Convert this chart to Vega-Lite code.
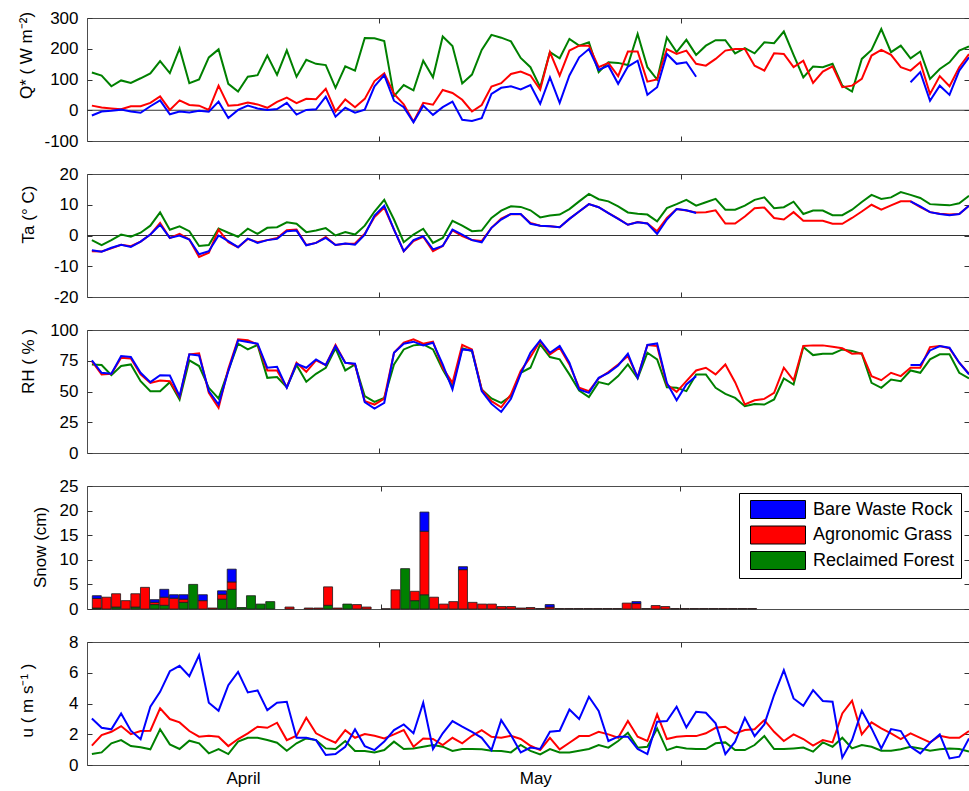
{
"$schema": "https://vega.github.io/schema/vega-lite/v6.json",
"background": "white",
"padding": {"left": 16, "top": 8, "right": 1, "bottom": 4},
"bounds": "flush",
"spacing": 33,
"resolve": {"scale": {"color": "independent"}},
"config": {
  "font": "Liberation Sans",
  "view": {"stroke": "#4d4d4d", "strokeWidth": 1},
  "axis": {"labelFont": "Liberation Sans", "labelFontSize": 17, "labelColor": "#000", "titleFont": "Liberation Sans", "titleFontSize": 17, "titleFontWeight": "normal", "titleColor": "#000", "grid": false, "domain": false, "tickColor": "#333", "tickSize": -5, "labelPadding": 14}
},
"datasets": {
"qstar": [
{"date":"2010-04-01T12:00","Bare Waste Rock":-17,"Agronomic Grass":15,"Reclaimed Forest":123},
{"date":"2010-04-02T12:00","Bare Waste Rock":-4,"Agronomic Grass":9,"Reclaimed Forest":113},
{"date":"2010-04-03T12:00","Bare Waste Rock":-2,"Agronomic Grass":6,"Reclaimed Forest":78},
{"date":"2010-04-04T12:00","Bare Waste Rock":2,"Agronomic Grass":3,"Reclaimed Forest":97},
{"date":"2010-04-05T12:00","Bare Waste Rock":-4,"Agronomic Grass":13,"Reclaimed Forest":89},
{"date":"2010-04-06T12:00","Bare Waste Rock":-8,"Agronomic Grass":13,"Reclaimed Forest":104},
{"date":"2010-04-07T12:00","Bare Waste Rock":13,"Agronomic Grass":24,"Reclaimed Forest":120},
{"date":"2010-04-08T12:00","Bare Waste Rock":32,"Agronomic Grass":45,"Reclaimed Forest":160},
{"date":"2010-04-09T12:00","Bare Waste Rock":-13,"Agronomic Grass":1,"Reclaimed Forest":121},
{"date":"2010-04-10T12:00","Bare Waste Rock":-4,"Agronomic Grass":32,"Reclaimed Forest":201},
{"date":"2010-04-11T12:00","Bare Waste Rock":-7,"Agronomic Grass":17,"Reclaimed Forest":88},
{"date":"2010-04-12T12:00","Bare Waste Rock":-2,"Agronomic Grass":15,"Reclaimed Forest":100},
{"date":"2010-04-13T12:00","Bare Waste Rock":-5,"Agronomic Grass":1,"Reclaimed Forest":172},
{"date":"2010-04-14T12:00","Bare Waste Rock":28,"Agronomic Grass":80,"Reclaimed Forest":198},
{"date":"2010-04-15T12:00","Bare Waste Rock":-25,"Agronomic Grass":15,"Reclaimed Forest":86},
{"date":"2010-04-16T12:00","Bare Waste Rock":1,"Agronomic Grass":17,"Reclaimed Forest":61},
{"date":"2010-04-17T12:00","Bare Waste Rock":15,"Agronomic Grass":25,"Reclaimed Forest":109},
{"date":"2010-04-18T12:00","Bare Waste Rock":6,"Agronomic Grass":19,"Reclaimed Forest":114},
{"date":"2010-04-19T12:00","Bare Waste Rock":1,"Agronomic Grass":8,"Reclaimed Forest":178},
{"date":"2010-04-20T12:00","Bare Waste Rock":4,"Agronomic Grass":27,"Reclaimed Forest":115},
{"date":"2010-04-21T12:00","Bare Waste Rock":24,"Agronomic Grass":41,"Reclaimed Forest":195},
{"date":"2010-04-22T12:00","Bare Waste Rock":-14,"Agronomic Grass":23,"Reclaimed Forest":109},
{"date":"2010-04-23T12:00","Bare Waste Rock":1,"Agronomic Grass":37,"Reclaimed Forest":164},
{"date":"2010-04-24T12:00","Bare Waste Rock":3,"Agronomic Grass":36,"Reclaimed Forest":151},
{"date":"2010-04-25T12:00","Bare Waste Rock":44,"Agronomic Grass":70,"Reclaimed Forest":147},
{"date":"2010-04-26T12:00","Bare Waste Rock":-21,"Agronomic Grass":-4,"Reclaimed Forest":73},
{"date":"2010-04-27T12:00","Bare Waste Rock":8,"Agronomic Grass":35,"Reclaimed Forest":143},
{"date":"2010-04-28T12:00","Bare Waste Rock":-8,"Agronomic Grass":10,"Reclaimed Forest":129},
{"date":"2010-04-29T12:00","Bare Waste Rock":2,"Agronomic Grass":37,"Reclaimed Forest":235},
{"date":"2010-04-30T12:00","Bare Waste Rock":78,"Agronomic Grass":95,"Reclaimed Forest":234},
{"date":"2010-05-01T12:00","Bare Waste Rock":114,"Agronomic Grass":120,"Reclaimed Forest":225},
{"date":"2010-05-02T12:00","Bare Waste Rock":31,"Agronomic Grass":53,"Reclaimed Forest":46},
{"date":"2010-05-03T12:00","Bare Waste Rock":10,"Agronomic Grass":19,"Reclaimed Forest":82},
{"date":"2010-05-04T12:00","Bare Waste Rock":-39,"Agronomic Grass":-37,"Reclaimed Forest":65},
{"date":"2010-05-05T12:00","Bare Waste Rock":15,"Agronomic Grass":24,"Reclaimed Forest":161},
{"date":"2010-05-06T12:00","Bare Waste Rock":-15,"Agronomic Grass":18,"Reclaimed Forest":107},
{"date":"2010-05-07T12:00","Bare Waste Rock":10,"Agronomic Grass":66,"Reclaimed Forest":240},
{"date":"2010-05-08T12:00","Bare Waste Rock":28,"Agronomic Grass":56,"Reclaimed Forest":209},
{"date":"2010-05-09T12:00","Bare Waste Rock":-31,"Agronomic Grass":34,"Reclaimed Forest":87},
{"date":"2010-05-10T12:00","Bare Waste Rock":-35,"Agronomic Grass":-4,"Reclaimed Forest":116},
{"date":"2010-05-11T12:00","Bare Waste Rock":-26,"Agronomic Grass":17,"Reclaimed Forest":196},
{"date":"2010-05-12T12:00","Bare Waste Rock":53,"Agronomic Grass":77,"Reclaimed Forest":245},
{"date":"2010-05-13T12:00","Bare Waste Rock":73,"Agronomic Grass":88,"Reclaimed Forest":236},
{"date":"2010-05-14T12:00","Bare Waste Rock":78,"Agronomic Grass":118,"Reclaimed Forest":224},
{"date":"2010-05-15T12:00","Bare Waste Rock":68,"Agronomic Grass":126,"Reclaimed Forest":170},
{"date":"2010-05-16T12:00","Bare Waste Rock":82,"Agronomic Grass":113,"Reclaimed Forest":140},
{"date":"2010-05-17T12:00","Bare Waste Rock":21,"Agronomic Grass":67,"Reclaimed Forest":75},
{"date":"2010-05-18T12:00","Bare Waste Rock":107,"Agronomic Grass":189,"Reclaimed Forest":189},
{"date":"2010-05-19T12:00","Bare Waste Rock":24,"Agronomic Grass":113,"Reclaimed Forest":169},
{"date":"2010-05-20T12:00","Bare Waste Rock":113,"Agronomic Grass":194,"Reclaimed Forest":232},
{"date":"2010-05-21T12:00","Bare Waste Rock":172,"Agronomic Grass":210,"Reclaimed Forest":210},
{"date":"2010-05-22T12:00","Bare Waste Rock":199,"Agronomic Grass":210,"Reclaimed Forest":221},
{"date":"2010-05-23T12:00","Bare Waste Rock":131,"Agronomic Grass":140,"Reclaimed Forest":124},
{"date":"2010-05-24T12:00","Bare Waste Rock":145,"Agronomic Grass":154,"Reclaimed Forest":156},
{"date":"2010-05-25T12:00","Bare Waste Rock":86,"Agronomic Grass":111,"Reclaimed Forest":154},
{"date":"2010-05-26T12:00","Bare Waste Rock":142,"Agronomic Grass":191,"Reclaimed Forest":147},
{"date":"2010-05-27T12:00","Bare Waste Rock":161,"Agronomic Grass":191,"Reclaimed Forest":248},
{"date":"2010-05-28T12:00","Bare Waste Rock":50,"Agronomic Grass":93,"Reclaimed Forest":140},
{"date":"2010-05-29T12:00","Bare Waste Rock":75,"Agronomic Grass":100,"Reclaimed Forest":100},
{"date":"2010-05-30T12:00","Bare Waste Rock":183,"Agronomic Grass":199,"Reclaimed Forest":237},
{"date":"2010-05-31T12:00","Bare Waste Rock":151,"Agronomic Grass":183,"Reclaimed Forest":189},
{"date":"2010-06-01T12:00","Bare Waste Rock":156,"Agronomic Grass":194,"Reclaimed Forest":229},
{"date":"2010-06-02T12:00","Bare Waste Rock":109,"Agronomic Grass":151,"Reclaimed Forest":180},
{"date":"2010-06-03T12:00","Bare Waste Rock":null,"Agronomic Grass":145,"Reclaimed Forest":210},
{"date":"2010-06-04T12:00","Bare Waste Rock":null,"Agronomic Grass":167,"Reclaimed Forest":228},
{"date":"2010-06-05T12:00","Bare Waste Rock":null,"Agronomic Grass":194,"Reclaimed Forest":228},
{"date":"2010-06-06T12:00","Bare Waste Rock":null,"Agronomic Grass":199,"Reclaimed Forest":185},
{"date":"2010-06-07T12:00","Bare Waste Rock":null,"Agronomic Grass":199,"Reclaimed Forest":202},
{"date":"2010-06-08T12:00","Bare Waste Rock":null,"Agronomic Grass":145,"Reclaimed Forest":185},
{"date":"2010-06-09T12:00","Bare Waste Rock":null,"Agronomic Grass":129,"Reclaimed Forest":221},
{"date":"2010-06-10T12:00","Bare Waste Rock":null,"Agronomic Grass":185,"Reclaimed Forest":218},
{"date":"2010-06-11T12:00","Bare Waste Rock":null,"Agronomic Grass":183,"Reclaimed Forest":256},
{"date":"2010-06-12T12:00","Bare Waste Rock":null,"Agronomic Grass":140,"Reclaimed Forest":180},
{"date":"2010-06-13T12:00","Bare Waste Rock":null,"Agronomic Grass":161,"Reclaimed Forest":107},
{"date":"2010-06-14T12:00","Bare Waste Rock":null,"Agronomic Grass":89,"Reclaimed Forest":142},
{"date":"2010-06-15T12:00","Bare Waste Rock":null,"Agronomic Grass":126,"Reclaimed Forest":140},
{"date":"2010-06-16T12:00","Bare Waste Rock":null,"Agronomic Grass":143,"Reclaimed Forest":151},
{"date":"2010-06-17T12:00","Bare Waste Rock":null,"Agronomic Grass":75,"Reclaimed Forest":80},
{"date":"2010-06-18T12:00","Bare Waste Rock":null,"Agronomic Grass":80,"Reclaimed Forest":61},
{"date":"2010-06-19T12:00","Bare Waste Rock":null,"Agronomic Grass":102,"Reclaimed Forest":167},
{"date":"2010-06-20T12:00","Bare Waste Rock":null,"Agronomic Grass":178,"Reclaimed Forest":196},
{"date":"2010-06-21T12:00","Bare Waste Rock":null,"Agronomic Grass":196,"Reclaimed Forest":264},
{"date":"2010-06-22T12:00","Bare Waste Rock":null,"Agronomic Grass":180,"Reclaimed Forest":189},
{"date":"2010-06-23T12:00","Bare Waste Rock":null,"Agronomic Grass":140,"Reclaimed Forest":210},
{"date":"2010-06-24T12:00","Bare Waste Rock":91,"Agronomic Grass":129,"Reclaimed Forest":169},
{"date":"2010-06-25T12:00","Bare Waste Rock":124,"Agronomic Grass":156,"Reclaimed Forest":191},
{"date":"2010-06-26T12:00","Bare Waste Rock":31,"Agronomic Grass":53,"Reclaimed Forest":102},
{"date":"2010-06-27T12:00","Bare Waste Rock":80,"Agronomic Grass":111,"Reclaimed Forest":134},
{"date":"2010-06-28T12:00","Bare Waste Rock":50,"Agronomic Grass":78,"Reclaimed Forest":156},
{"date":"2010-06-29T12:00","Bare Waste Rock":129,"Agronomic Grass":140,"Reclaimed Forest":194},
{"date":"2010-06-30T12:00","Bare Waste Rock":172,"Agronomic Grass":183,"Reclaimed Forest":208}
],
"ta": [
{"date":"2010-04-01T12:00","Bare Waste Rock":-4.8,"Agronomic Grass":-5.1,"Reclaimed Forest":-1.5},
{"date":"2010-04-02T12:00","Bare Waste Rock":-5.3,"Agronomic Grass":-5.2,"Reclaimed Forest":-3.1},
{"date":"2010-04-03T12:00","Bare Waste Rock":-4.0,"Agronomic Grass":-4.2,"Reclaimed Forest":-1.5},
{"date":"2010-04-04T12:00","Bare Waste Rock":-3.0,"Agronomic Grass":-3.0,"Reclaimed Forest":0.3},
{"date":"2010-04-05T12:00","Bare Waste Rock":-3.7,"Agronomic Grass":-3.5,"Reclaimed Forest":-0.4},
{"date":"2010-04-06T12:00","Bare Waste Rock":-2.0,"Agronomic Grass":-2.0,"Reclaimed Forest":0.9},
{"date":"2010-04-07T12:00","Bare Waste Rock":0.3,"Agronomic Grass":0.3,"Reclaimed Forest":3.2},
{"date":"2010-04-08T12:00","Bare Waste Rock":3.5,"Agronomic Grass":4.1,"Reclaimed Forest":7.5},
{"date":"2010-04-09T12:00","Bare Waste Rock":-0.8,"Agronomic Grass":-0.8,"Reclaimed Forest":1.9},
{"date":"2010-04-10T12:00","Bare Waste Rock":0,"Agronomic Grass":0.5,"Reclaimed Forest":3.0},
{"date":"2010-04-11T12:00","Bare Waste Rock":-1.3,"Agronomic Grass":-1.3,"Reclaimed Forest":1.4},
{"date":"2010-04-12T12:00","Bare Waste Rock":-6.1,"Agronomic Grass":-7.0,"Reclaimed Forest":-3.4},
{"date":"2010-04-13T12:00","Bare Waste Rock":-5.1,"Agronomic Grass":-5.6,"Reclaimed Forest":-3.1},
{"date":"2010-04-14T12:00","Bare Waste Rock":0,"Agronomic Grass":1.9,"Reclaimed Forest":2.3},
{"date":"2010-04-15T12:00","Bare Waste Rock":-1.8,"Agronomic Grass":-2.2,"Reclaimed Forest":0.9},
{"date":"2010-04-16T12:00","Bare Waste Rock":-3.8,"Agronomic Grass":-3.8,"Reclaimed Forest":-0.4},
{"date":"2010-04-17T12:00","Bare Waste Rock":-1.0,"Agronomic Grass":-1.1,"Reclaimed Forest":2.2},
{"date":"2010-04-18T12:00","Bare Waste Rock":-2.4,"Agronomic Grass":-2.2,"Reclaimed Forest":0.5},
{"date":"2010-04-19T12:00","Bare Waste Rock":-1.5,"Agronomic Grass":-1.5,"Reclaimed Forest":2.5},
{"date":"2010-04-20T12:00","Bare Waste Rock":-1.1,"Agronomic Grass":-0.8,"Reclaimed Forest":2.7},
{"date":"2010-04-21T12:00","Bare Waste Rock":1.4,"Agronomic Grass":1.7,"Reclaimed Forest":4.3},
{"date":"2010-04-22T12:00","Bare Waste Rock":1.6,"Agronomic Grass":1.9,"Reclaimed Forest":3.8},
{"date":"2010-04-23T12:00","Bare Waste Rock":-3.2,"Agronomic Grass":-3.1,"Reclaimed Forest":1.1},
{"date":"2010-04-24T12:00","Bare Waste Rock":-2.4,"Agronomic Grass":-2.4,"Reclaimed Forest":1.6},
{"date":"2010-04-25T12:00","Bare Waste Rock":-0.8,"Agronomic Grass":-0.5,"Reclaimed Forest":2.4},
{"date":"2010-04-26T12:00","Bare Waste Rock":-3.1,"Agronomic Grass":-3.1,"Reclaimed Forest":0},
{"date":"2010-04-27T12:00","Bare Waste Rock":-2.6,"Agronomic Grass":-2.7,"Reclaimed Forest":1.1},
{"date":"2010-04-28T12:00","Bare Waste Rock":-3.0,"Agronomic Grass":-2.6,"Reclaimed Forest":0.3},
{"date":"2010-04-29T12:00","Bare Waste Rock":0.3,"Agronomic Grass":0.6,"Reclaimed Forest":3.2},
{"date":"2010-04-30T12:00","Bare Waste Rock":6.5,"Agronomic Grass":6.0,"Reclaimed Forest":7.8},
{"date":"2010-05-01T12:00","Bare Waste Rock":9.7,"Agronomic Grass":9.1,"Reclaimed Forest":11.6},
{"date":"2010-05-02T12:00","Bare Waste Rock":1.9,"Agronomic Grass":1.9,"Reclaimed Forest":5.2},
{"date":"2010-05-03T12:00","Bare Waste Rock":-5.1,"Agronomic Grass":-5.1,"Reclaimed Forest":-2.2},
{"date":"2010-05-04T12:00","Bare Waste Rock":-1.5,"Agronomic Grass":-1.8,"Reclaimed Forest":0.3},
{"date":"2010-05-05T12:00","Bare Waste Rock":-0.2,"Agronomic Grass":-0.4,"Reclaimed Forest":2.2},
{"date":"2010-05-06T12:00","Bare Waste Rock":-4.5,"Agronomic Grass":-5.1,"Reclaimed Forest":-2.4},
{"date":"2010-05-07T12:00","Bare Waste Rock":-3.4,"Agronomic Grass":-3.4,"Reclaimed Forest":-0.8},
{"date":"2010-05-08T12:00","Bare Waste Rock":1.9,"Agronomic Grass":1.7,"Reclaimed Forest":4.8},
{"date":"2010-05-09T12:00","Bare Waste Rock":0.3,"Agronomic Grass":-0.2,"Reclaimed Forest":3.2},
{"date":"2010-05-10T12:00","Bare Waste Rock":-1.5,"Agronomic Grass":-1.5,"Reclaimed Forest":1.4},
{"date":"2010-05-11T12:00","Bare Waste Rock":-2.2,"Agronomic Grass":-1.8,"Reclaimed Forest":1.6},
{"date":"2010-05-12T12:00","Bare Waste Rock":2.5,"Agronomic Grass":2.5,"Reclaimed Forest":5.7},
{"date":"2010-05-13T12:00","Bare Waste Rock":5.2,"Agronomic Grass":5.5,"Reclaimed Forest":8.1},
{"date":"2010-05-14T12:00","Bare Waste Rock":7.0,"Agronomic Grass":7.0,"Reclaimed Forest":9.5},
{"date":"2010-05-15T12:00","Bare Waste Rock":7.0,"Agronomic Grass":6.9,"Reclaimed Forest":9.3},
{"date":"2010-05-16T12:00","Bare Waste Rock":3.8,"Agronomic Grass":4.1,"Reclaimed Forest":8.2},
{"date":"2010-05-17T12:00","Bare Waste Rock":3.2,"Agronomic Grass":3.2,"Reclaimed Forest":5.9},
{"date":"2010-05-18T12:00","Bare Waste Rock":3.0,"Agronomic Grass":3.0,"Reclaimed Forest":6.5},
{"date":"2010-05-19T12:00","Bare Waste Rock":2.7,"Agronomic Grass":2.7,"Reclaimed Forest":6.8},
{"date":"2010-05-20T12:00","Bare Waste Rock":5.4,"Agronomic Grass":5.4,"Reclaimed Forest":8.6},
{"date":"2010-05-21T12:00","Bare Waste Rock":7.8,"Agronomic Grass":7.8,"Reclaimed Forest":11.1},
{"date":"2010-05-22T12:00","Bare Waste Rock":10.2,"Agronomic Grass":10.2,"Reclaimed Forest":13.5},
{"date":"2010-05-23T12:00","Bare Waste Rock":9.2,"Agronomic Grass":9.2,"Reclaimed Forest":11.8},
{"date":"2010-05-24T12:00","Bare Waste Rock":7.3,"Agronomic Grass":7.3,"Reclaimed Forest":11.1},
{"date":"2010-05-25T12:00","Bare Waste Rock":5.4,"Agronomic Grass":5.5,"Reclaimed Forest":9.5},
{"date":"2010-05-26T12:00","Bare Waste Rock":3.5,"Agronomic Grass":3.5,"Reclaimed Forest":7.5},
{"date":"2010-05-27T12:00","Bare Waste Rock":4.3,"Agronomic Grass":4.4,"Reclaimed Forest":7.1},
{"date":"2010-05-28T12:00","Bare Waste Rock":3.9,"Agronomic Grass":3.9,"Reclaimed Forest":6.8},
{"date":"2010-05-29T12:00","Bare Waste Rock":0.5,"Agronomic Grass":1.4,"Reclaimed Forest":4.6},
{"date":"2010-05-30T12:00","Bare Waste Rock":5.2,"Agronomic Grass":5.7,"Reclaimed Forest":8.9},
{"date":"2010-05-31T12:00","Bare Waste Rock":8.6,"Agronomic Grass":8.6,"Reclaimed Forest":10.2},
{"date":"2010-06-01T12:00","Bare Waste Rock":8.2,"Agronomic Grass":8.1,"Reclaimed Forest":11.6},
{"date":"2010-06-02T12:00","Bare Waste Rock":7.3,"Agronomic Grass":7.5,"Reclaimed Forest":9.7},
{"date":"2010-06-03T12:00","Bare Waste Rock":null,"Agronomic Grass":7.6,"Reclaimed Forest":10.8},
{"date":"2010-06-04T12:00","Bare Waste Rock":null,"Agronomic Grass":8.2,"Reclaimed Forest":11.9},
{"date":"2010-06-05T12:00","Bare Waste Rock":null,"Agronomic Grass":3.9,"Reclaimed Forest":8.4},
{"date":"2010-06-06T12:00","Bare Waste Rock":null,"Agronomic Grass":3.9,"Reclaimed Forest":8.4},
{"date":"2010-06-07T12:00","Bare Waste Rock":null,"Agronomic Grass":6.2,"Reclaimed Forest":9.7},
{"date":"2010-06-08T12:00","Bare Waste Rock":null,"Agronomic Grass":8.9,"Reclaimed Forest":11.6},
{"date":"2010-06-09T12:00","Bare Waste Rock":null,"Agronomic Grass":9.1,"Reclaimed Forest":12.4},
{"date":"2010-06-10T12:00","Bare Waste Rock":null,"Agronomic Grass":5.7,"Reclaimed Forest":8.9},
{"date":"2010-06-11T12:00","Bare Waste Rock":null,"Agronomic Grass":5.2,"Reclaimed Forest":9.2},
{"date":"2010-06-12T12:00","Bare Waste Rock":null,"Agronomic Grass":7.6,"Reclaimed Forest":11.0},
{"date":"2010-06-13T12:00","Bare Waste Rock":null,"Agronomic Grass":4.8,"Reclaimed Forest":7.0},
{"date":"2010-06-14T12:00","Bare Waste Rock":null,"Agronomic Grass":4.8,"Reclaimed Forest":8.1},
{"date":"2010-06-15T12:00","Bare Waste Rock":null,"Agronomic Grass":4.8,"Reclaimed Forest":8.1},
{"date":"2010-06-16T12:00","Bare Waste Rock":null,"Agronomic Grass":3.8,"Reclaimed Forest":6.6},
{"date":"2010-06-17T12:00","Bare Waste Rock":null,"Agronomic Grass":3.8,"Reclaimed Forest":6.6},
{"date":"2010-06-18T12:00","Bare Waste Rock":null,"Agronomic Grass":5.7,"Reclaimed Forest":8.4},
{"date":"2010-06-19T12:00","Bare Waste Rock":null,"Agronomic Grass":7.8,"Reclaimed Forest":10.9},
{"date":"2010-06-20T12:00","Bare Waste Rock":null,"Agronomic Grass":10.0,"Reclaimed Forest":13.2},
{"date":"2010-06-21T12:00","Bare Waste Rock":null,"Agronomic Grass":8.4,"Reclaimed Forest":11.9},
{"date":"2010-06-22T12:00","Bare Waste Rock":null,"Agronomic Grass":9.8,"Reclaimed Forest":12.4},
{"date":"2010-06-23T12:00","Bare Waste Rock":null,"Agronomic Grass":11.1,"Reclaimed Forest":14.1},
{"date":"2010-06-24T12:00","Bare Waste Rock":11.1,"Agronomic Grass":11.1,"Reclaimed Forest":13.2},
{"date":"2010-06-25T12:00","Bare Waste Rock":9.5,"Agronomic Grass":9.2,"Reclaimed Forest":12.2},
{"date":"2010-06-26T12:00","Bare Waste Rock":7.6,"Agronomic Grass":7.6,"Reclaimed Forest":10.2},
{"date":"2010-06-27T12:00","Bare Waste Rock":7.0,"Agronomic Grass":7.1,"Reclaimed Forest":10.0},
{"date":"2010-06-28T12:00","Bare Waste Rock":6.6,"Agronomic Grass":6.8,"Reclaimed Forest":9.8},
{"date":"2010-06-29T12:00","Bare Waste Rock":7.0,"Agronomic Grass":7.0,"Reclaimed Forest":10.5},
{"date":"2010-06-30T12:00","Bare Waste Rock":9.7,"Agronomic Grass":9.7,"Reclaimed Forest":12.9}
],
"rh": [
{"date":"2010-04-01T12:00","Bare Waste Rock":75.3,"Agronomic Grass":74.7,"Reclaimed Forest":72},
{"date":"2010-04-02T12:00","Bare Waste Rock":65.2,"Agronomic Grass":63.9,"Reclaimed Forest":71.5},
{"date":"2010-04-03T12:00","Bare Waste Rock":64.4,"Agronomic Grass":64.4,"Reclaimed Forest":63.3},
{"date":"2010-04-04T12:00","Bare Waste Rock":78.8,"Agronomic Grass":77.4,"Reclaimed Forest":70.7},
{"date":"2010-04-05T12:00","Bare Waste Rock":78,"Agronomic Grass":76.9,"Reclaimed Forest":72},
{"date":"2010-04-06T12:00","Bare Waste Rock":65.2,"Agronomic Grass":63.9,"Reclaimed Forest":58.4},
{"date":"2010-04-07T12:00","Bare Waste Rock":57.6,"Agronomic Grass":57,"Reclaimed Forest":50.3},
{"date":"2010-04-08T12:00","Bare Waste Rock":63.3,"Agronomic Grass":59,"Reclaimed Forest":50.3},
{"date":"2010-04-09T12:00","Bare Waste Rock":63,"Agronomic Grass":58.4,"Reclaimed Forest":57.6},
{"date":"2010-04-10T12:00","Bare Waste Rock":46.2,"Agronomic Grass":45.4,"Reclaimed Forest":43.5},
{"date":"2010-04-11T12:00","Bare Waste Rock":80.2,"Agronomic Grass":80.2,"Reclaimed Forest":75.3},
{"date":"2010-04-12T12:00","Bare Waste Rock":79.3,"Agronomic Grass":81,"Reclaimed Forest":70.7},
{"date":"2010-04-13T12:00","Bare Waste Rock":50.3,"Agronomic Grass":48.9,"Reclaimed Forest":53},
{"date":"2010-04-14T12:00","Bare Waste Rock":39.4,"Agronomic Grass":36.7,"Reclaimed Forest":44.3},
{"date":"2010-04-15T12:00","Bare Waste Rock":66.6,"Agronomic Grass":68.5,"Reclaimed Forest":67.1},
{"date":"2010-04-16T12:00","Bare Waste Rock":91.6,"Agronomic Grass":92.4,"Reclaimed Forest":88.9},
{"date":"2010-04-17T12:00","Bare Waste Rock":90.2,"Agronomic Grass":91.6,"Reclaimed Forest":84.2},
{"date":"2010-04-18T12:00","Bare Waste Rock":88.9,"Agronomic Grass":88.3,"Reclaimed Forest":87.8},
{"date":"2010-04-19T12:00","Bare Waste Rock":69.3,"Agronomic Grass":67.1,"Reclaimed Forest":61.1},
{"date":"2010-04-20T12:00","Bare Waste Rock":70.1,"Agronomic Grass":67.1,"Reclaimed Forest":61.7},
{"date":"2010-04-21T12:00","Bare Waste Rock":53,"Agronomic Grass":53.5,"Reclaimed Forest":53.5},
{"date":"2010-04-22T12:00","Bare Waste Rock":72.6,"Agronomic Grass":73.4,"Reclaimed Forest":71.5},
{"date":"2010-04-23T12:00","Bare Waste Rock":69.3,"Agronomic Grass":66,"Reclaimed Forest":57.9},
{"date":"2010-04-24T12:00","Bare Waste Rock":76.1,"Agronomic Grass":75.3,"Reclaimed Forest":64.4},
{"date":"2010-04-25T12:00","Bare Waste Rock":71.5,"Agronomic Grass":71.5,"Reclaimed Forest":69.3},
{"date":"2010-04-26T12:00","Bare Waste Rock":87,"Agronomic Grass":87.8,"Reclaimed Forest":85.1},
{"date":"2010-04-27T12:00","Bare Waste Rock":73.4,"Agronomic Grass":73.4,"Reclaimed Forest":67.1},
{"date":"2010-04-28T12:00","Bare Waste Rock":72.6,"Agronomic Grass":72,"Reclaimed Forest":72},
{"date":"2010-04-29T12:00","Bare Waste Rock":41.3,"Agronomic Grass":42.1,"Reclaimed Forest":46.2},
{"date":"2010-04-30T12:00","Bare Waste Rock":36.1,"Agronomic Grass":39.4,"Reclaimed Forest":41.6},
{"date":"2010-05-01T12:00","Bare Waste Rock":40.8,"Agronomic Grass":44.3,"Reclaimed Forest":44.8},
{"date":"2010-05-02T12:00","Bare Waste Rock":81.5,"Agronomic Grass":81.5,"Reclaimed Forest":72},
{"date":"2010-05-03T12:00","Bare Waste Rock":88.9,"Agronomic Grass":89.7,"Reclaimed Forest":84.2},
{"date":"2010-05-04T12:00","Bare Waste Rock":90.5,"Agronomic Grass":92.4,"Reclaimed Forest":87.5},
{"date":"2010-05-05T12:00","Bare Waste Rock":87.5,"Agronomic Grass":88.9,"Reclaimed Forest":88.3},
{"date":"2010-05-06T12:00","Bare Waste Rock":89.7,"Agronomic Grass":90.5,"Reclaimed Forest":84.2},
{"date":"2010-05-07T12:00","Bare Waste Rock":72,"Agronomic Grass":69.3,"Reclaimed Forest":67.9},
{"date":"2010-05-08T12:00","Bare Waste Rock":51.6,"Agronomic Grass":57,"Reclaimed Forest":54.3},
{"date":"2010-05-09T12:00","Bare Waste Rock":84.2,"Agronomic Grass":87.8,"Reclaimed Forest":85.1},
{"date":"2010-05-10T12:00","Bare Waste Rock":83.4,"Agronomic Grass":84.2,"Reclaimed Forest":82.9},
{"date":"2010-05-11T12:00","Bare Waste Rock":50.3,"Agronomic Grass":51.6,"Reclaimed Forest":51.6},
{"date":"2010-05-12T12:00","Bare Waste Rock":39.9,"Agronomic Grass":42.1,"Reclaimed Forest":44.3},
{"date":"2010-05-13T12:00","Bare Waste Rock":33.4,"Agronomic Grass":37.2,"Reclaimed Forest":40.8},
{"date":"2010-05-14T12:00","Bare Waste Rock":44,"Agronomic Grass":47.6,"Reclaimed Forest":46.2},
{"date":"2010-05-15T12:00","Bare Waste Rock":64.4,"Agronomic Grass":66.6,"Reclaimed Forest":65.2},
{"date":"2010-05-16T12:00","Bare Waste Rock":81.5,"Agronomic Grass":78,"Reclaimed Forest":69.3},
{"date":"2010-05-17T12:00","Bare Waste Rock":91.6,"Agronomic Grass":91,"Reclaimed Forest":88.3},
{"date":"2010-05-18T12:00","Bare Waste Rock":81.5,"Agronomic Grass":80.2,"Reclaimed Forest":78},
{"date":"2010-05-19T12:00","Bare Waste Rock":87,"Agronomic Grass":85.6,"Reclaimed Forest":76.1},
{"date":"2010-05-20T12:00","Bare Waste Rock":73.4,"Agronomic Grass":72,"Reclaimed Forest":63.9},
{"date":"2010-05-21T12:00","Bare Waste Rock":51.6,"Agronomic Grass":53,"Reclaimed Forest":50.8},
{"date":"2010-05-22T12:00","Bare Waste Rock":48.9,"Agronomic Grass":50.3,"Reclaimed Forest":45.4},
{"date":"2010-05-23T12:00","Bare Waste Rock":61.1,"Agronomic Grass":60.6,"Reclaimed Forest":57.6},
{"date":"2010-05-24T12:00","Bare Waste Rock":65.2,"Agronomic Grass":65.8,"Reclaimed Forest":55.7},
{"date":"2010-05-25T12:00","Bare Waste Rock":71.2,"Agronomic Grass":72,"Reclaimed Forest":62.5},
{"date":"2010-05-26T12:00","Bare Waste Rock":80.7,"Agronomic Grass":78.8,"Reclaimed Forest":72},
{"date":"2010-05-27T12:00","Bare Waste Rock":61.1,"Agronomic Grass":61.7,"Reclaimed Forest":60.6},
{"date":"2010-05-28T12:00","Bare Waste Rock":87.8,"Agronomic Grass":87.8,"Reclaimed Forest":81.5},
{"date":"2010-05-29T12:00","Bare Waste Rock":89.1,"Agronomic Grass":87,"Reclaimed Forest":76.1},
{"date":"2010-05-30T12:00","Bare Waste Rock":57,"Agronomic Grass":55.7,"Reclaimed Forest":53.5},
{"date":"2010-05-31T12:00","Bare Waste Rock":42.9,"Agronomic Grass":49.7,"Reclaimed Forest":53},
{"date":"2010-06-01T12:00","Bare Waste Rock":55.7,"Agronomic Grass":58.4,"Reclaimed Forest":50.3},
{"date":"2010-06-02T12:00","Bare Waste Rock":62.5,"Agronomic Grass":67.1,"Reclaimed Forest":63.9},
{"date":"2010-06-03T12:00","Bare Waste Rock":null,"Agronomic Grass":69.3,"Reclaimed Forest":63.9},
{"date":"2010-06-04T12:00","Bare Waste Rock":null,"Agronomic Grass":63.9,"Reclaimed Forest":53},
{"date":"2010-06-05T12:00","Bare Waste Rock":null,"Agronomic Grass":72,"Reclaimed Forest":48.1},
{"date":"2010-06-06T12:00","Bare Waste Rock":null,"Agronomic Grass":57.6,"Reclaimed Forest":44.8},
{"date":"2010-06-07T12:00","Bare Waste Rock":null,"Agronomic Grass":39.4,"Reclaimed Forest":38},
{"date":"2010-06-08T12:00","Bare Waste Rock":null,"Agronomic Grass":42.9,"Reclaimed Forest":39.9},
{"date":"2010-06-09T12:00","Bare Waste Rock":null,"Agronomic Grass":44,"Reclaimed Forest":39.4},
{"date":"2010-06-10T12:00","Bare Waste Rock":null,"Agronomic Grass":48.9,"Reclaimed Forest":43.5},
{"date":"2010-06-11T12:00","Bare Waste Rock":null,"Agronomic Grass":69.3,"Reclaimed Forest":60.6},
{"date":"2010-06-12T12:00","Bare Waste Rock":null,"Agronomic Grass":59,"Reclaimed Forest":55.7},
{"date":"2010-06-13T12:00","Bare Waste Rock":null,"Agronomic Grass":87,"Reclaimed Forest":86.1},
{"date":"2010-06-14T12:00","Bare Waste Rock":null,"Agronomic Grass":87.5,"Reclaimed Forest":79.6},
{"date":"2010-06-15T12:00","Bare Waste Rock":null,"Agronomic Grass":87.5,"Reclaimed Forest":80.7},
{"date":"2010-06-16T12:00","Bare Waste Rock":null,"Agronomic Grass":86.4,"Reclaimed Forest":80.7},
{"date":"2010-06-17T12:00","Bare Waste Rock":null,"Agronomic Grass":85.1,"Reclaimed Forest":84.2},
{"date":"2010-06-18T12:00","Bare Waste Rock":null,"Agronomic Grass":80.7,"Reclaimed Forest":82.9},
{"date":"2010-06-19T12:00","Bare Waste Rock":null,"Agronomic Grass":81,"Reclaimed Forest":80.7},
{"date":"2010-06-20T12:00","Bare Waste Rock":null,"Agronomic Grass":62.5,"Reclaimed Forest":57},
{"date":"2010-06-21T12:00","Bare Waste Rock":null,"Agronomic Grass":59.2,"Reclaimed Forest":53},
{"date":"2010-06-22T12:00","Bare Waste Rock":null,"Agronomic Grass":65.2,"Reclaimed Forest":59.8},
{"date":"2010-06-23T12:00","Bare Waste Rock":null,"Agronomic Grass":62.5,"Reclaimed Forest":58.4},
{"date":"2010-06-24T12:00","Bare Waste Rock":71.5,"Agronomic Grass":69.3,"Reclaimed Forest":67.1},
{"date":"2010-06-25T12:00","Bare Waste Rock":71.5,"Agronomic Grass":69.3,"Reclaimed Forest":65.2},
{"date":"2010-06-26T12:00","Bare Waste Rock":83.4,"Agronomic Grass":86.1,"Reclaimed Forest":76.1},
{"date":"2010-06-27T12:00","Bare Waste Rock":87,"Agronomic Grass":87,"Reclaimed Forest":80.2},
{"date":"2010-06-28T12:00","Bare Waste Rock":85.6,"Agronomic Grass":85.1,"Reclaimed Forest":80.2},
{"date":"2010-06-29T12:00","Bare Waste Rock":73.4,"Agronomic Grass":73.4,"Reclaimed Forest":65.2},
{"date":"2010-06-30T12:00","Bare Waste Rock":63.9,"Agronomic Grass":64.4,"Reclaimed Forest":60.6}
],
"snow": [
{"date":"2010-04-01T12:00","site":"Reclaimed Forest","cm":0.2},{"date":"2010-04-01T12:00","site":"Agronomic Grass","cm":1.95},{"date":"2010-04-01T12:00","site":"Bare Waste Rock","cm":0.55},
{"date":"2010-04-02T12:00","site":"Agronomic Grass","cm":2.4},
{"date":"2010-04-03T12:00","site":"Reclaimed Forest","cm":0.4},{"date":"2010-04-03T12:00","site":"Agronomic Grass","cm":2.7},
{"date":"2010-04-04T12:00","site":"Agronomic Grass","cm":1.7},
{"date":"2010-04-05T12:00","site":"Reclaimed Forest","cm":0.4},{"date":"2010-04-05T12:00","site":"Agronomic Grass","cm":2.7},
{"date":"2010-04-06T12:00","site":"Agronomic Grass","cm":4.4},
{"date":"2010-04-07T12:00","site":"Reclaimed Forest","cm":0.9},{"date":"2010-04-07T12:00","site":"Agronomic Grass","cm":0.45},{"date":"2010-04-07T12:00","site":"Bare Waste Rock","cm":0.55},
{"date":"2010-04-08T12:00","site":"Reclaimed Forest","cm":0.75},{"date":"2010-04-08T12:00","site":"Agronomic Grass","cm":1.65},{"date":"2010-04-08T12:00","site":"Bare Waste Rock","cm":1.6},
{"date":"2010-04-09T12:00","site":"Agronomic Grass","cm":2.2},{"date":"2010-04-09T12:00","site":"Bare Waste Rock","cm":0.7},
{"date":"2010-04-10T12:00","site":"Reclaimed Forest","cm":1.35},{"date":"2010-04-10T12:00","site":"Agronomic Grass","cm":0.65},{"date":"2010-04-10T12:00","site":"Bare Waste Rock","cm":0.9},
{"date":"2010-04-11T12:00","site":"Reclaimed Forest","cm":5.0},
{"date":"2010-04-12T12:00","site":"Agronomic Grass","cm":1.7},{"date":"2010-04-12T12:00","site":"Bare Waste Rock","cm":1.2},
{"date":"2010-04-13T12:00","site":"Agronomic Grass","cm":0.2},
{"date":"2010-04-14T12:00","site":"Reclaimed Forest","cm":2.0},{"date":"2010-04-14T12:00","site":"Agronomic Grass","cm":1.0},{"date":"2010-04-14T12:00","site":"Bare Waste Rock","cm":0.7},
{"date":"2010-04-15T12:00","site":"Reclaimed Forest","cm":4.0},{"date":"2010-04-15T12:00","site":"Agronomic Grass","cm":1.5},{"date":"2010-04-15T12:00","site":"Bare Waste Rock","cm":2.6},
{"date":"2010-04-16T12:00","site":"Reclaimed Forest","cm":0.3},
{"date":"2010-04-17T12:00","site":"Reclaimed Forest","cm":2.7},
{"date":"2010-04-18T12:00","site":"Reclaimed Forest","cm":1.0},
{"date":"2010-04-19T12:00","site":"Reclaimed Forest","cm":1.5},
{"date":"2010-04-21T12:00","site":"Agronomic Grass","cm":0.4},
{"date":"2010-04-23T12:00","site":"Agronomic Grass","cm":0.2},
{"date":"2010-04-24T12:00","site":"Agronomic Grass","cm":0.2},
{"date":"2010-04-25T12:00","site":"Reclaimed Forest","cm":0.75},{"date":"2010-04-25T12:00","site":"Agronomic Grass","cm":3.75},
{"date":"2010-04-26T12:00","site":"Agronomic Grass","cm":0.2},
{"date":"2010-04-27T12:00","site":"Reclaimed Forest","cm":1.0},
{"date":"2010-04-28T12:00","site":"Agronomic Grass","cm":0.9},
{"date":"2010-04-29T12:00","site":"Agronomic Grass","cm":0.4},
{"date":"2010-05-01T12:00","site":"Agronomic Grass","cm":0.05},
{"date":"2010-05-02T12:00","site":"Agronomic Grass","cm":3.9},
{"date":"2010-05-03T12:00","site":"Reclaimed Forest","cm":8.2},
{"date":"2010-05-04T12:00","site":"Reclaimed Forest","cm":1.7},{"date":"2010-05-04T12:00","site":"Agronomic Grass","cm":1.9},
{"date":"2010-05-05T12:00","site":"Reclaimed Forest","cm":2.9},{"date":"2010-05-05T12:00","site":"Agronomic Grass","cm":12.9},{"date":"2010-05-05T12:00","site":"Bare Waste Rock","cm":3.9},
{"date":"2010-05-06T12:00","site":"Agronomic Grass","cm":2.4},
{"date":"2010-05-07T12:00","site":"Agronomic Grass","cm":1.0},
{"date":"2010-05-08T12:00","site":"Agronomic Grass","cm":1.5},
{"date":"2010-05-09T12:00","site":"Agronomic Grass","cm":8.0},{"date":"2010-05-09T12:00","site":"Bare Waste Rock","cm":0.6},
{"date":"2010-05-10T12:00","site":"Agronomic Grass","cm":1.35},
{"date":"2010-05-11T12:00","site":"Agronomic Grass","cm":1.0},
{"date":"2010-05-12T12:00","site":"Agronomic Grass","cm":1.0},
{"date":"2010-05-13T12:00","site":"Agronomic Grass","cm":0.5},
{"date":"2010-05-14T12:00","site":"Agronomic Grass","cm":0.5},
{"date":"2010-05-15T12:00","site":"Agronomic Grass","cm":0.2},
{"date":"2010-05-16T12:00","site":"Agronomic Grass","cm":0.3},
{"date":"2010-05-17T12:00","site":"Agronomic Grass","cm":0.1},
{"date":"2010-05-18T12:00","site":"Agronomic Grass","cm":0.4},{"date":"2010-05-18T12:00","site":"Bare Waste Rock","cm":0.5},
{"date":"2010-05-19T12:00","site":"Agronomic Grass","cm":0.1},
{"date":"2010-05-20T12:00","site":"Agronomic Grass","cm":0.1},
{"date":"2010-05-21T12:00","site":"Agronomic Grass","cm":0.1},
{"date":"2010-05-22T12:00","site":"Agronomic Grass","cm":0.1},
{"date":"2010-05-23T12:00","site":"Agronomic Grass","cm":0.1},
{"date":"2010-05-24T12:00","site":"Agronomic Grass","cm":0.1},
{"date":"2010-05-25T12:00","site":"Agronomic Grass","cm":0.1},
{"date":"2010-05-26T12:00","site":"Agronomic Grass","cm":1.2},
{"date":"2010-05-27T12:00","site":"Agronomic Grass","cm":1.1},{"date":"2010-05-27T12:00","site":"Bare Waste Rock","cm":0.4},
{"date":"2010-05-28T12:00","site":"Agronomic Grass","cm":0.1},
{"date":"2010-05-29T12:00","site":"Agronomic Grass","cm":0.7},
{"date":"2010-05-30T12:00","site":"Agronomic Grass","cm":0.5},
{"date":"2010-05-31T12:00","site":"Agronomic Grass","cm":0.1},
{"date":"2010-06-01T12:00","site":"Agronomic Grass","cm":0.1},
{"date":"2010-06-02T12:00","site":"Agronomic Grass","cm":0.1},
{"date":"2010-06-03T12:00","site":"Agronomic Grass","cm":0.1},
{"date":"2010-06-04T12:00","site":"Agronomic Grass","cm":0.1},
{"date":"2010-06-05T12:00","site":"Agronomic Grass","cm":0.1},
{"date":"2010-06-06T12:00","site":"Agronomic Grass","cm":0.1},
{"date":"2010-06-07T12:00","site":"Agronomic Grass","cm":0.1},
{"date":"2010-06-08T12:00","site":"Agronomic Grass","cm":0.1}
],
"wind": [
{"date":"2010-04-01T12:00","Bare Waste Rock":3.03,"Agronomic Grass":1.26,"Reclaimed Forest":0.71},
{"date":"2010-04-02T12:00","Bare Waste Rock":2.42,"Agronomic Grass":1.95,"Reclaimed Forest":0.82},
{"date":"2010-04-03T12:00","Bare Waste Rock":2.32,"Agronomic Grass":2.16,"Reclaimed Forest":1.41},
{"date":"2010-04-04T12:00","Bare Waste Rock":3.35,"Agronomic Grass":2.53,"Reclaimed Forest":1.62},
{"date":"2010-04-05T12:00","Bare Waste Rock":2.23,"Agronomic Grass":2.01,"Reclaimed Forest":1.23},
{"date":"2010-04-06T12:00","Bare Waste Rock":1.67,"Agronomic Grass":2.21,"Reclaimed Forest":1.15},
{"date":"2010-04-07T12:00","Bare Waste Rock":3.79,"Agronomic Grass":2.23,"Reclaimed Forest":1.02},
{"date":"2010-04-08T12:00","Bare Waste Rock":4.76,"Agronomic Grass":3.68,"Reclaimed Forest":2.32},
{"date":"2010-04-09T12:00","Bare Waste Rock":6.10,"Agronomic Grass":2.99,"Reclaimed Forest":1.34},
{"date":"2010-04-10T12:00","Bare Waste Rock":6.45,"Agronomic Grass":2.77,"Reclaimed Forest":1.04},
{"date":"2010-04-11T12:00","Bare Waste Rock":5.78,"Agronomic Grass":2.21,"Reclaimed Forest":1.58},
{"date":"2010-04-12T12:00","Bare Waste Rock":7.14,"Agronomic Grass":1.84,"Reclaimed Forest":1.41},
{"date":"2010-04-13T12:00","Bare Waste Rock":4.05,"Agronomic Grass":1.90,"Reclaimed Forest":0.76},
{"date":"2010-04-14T12:00","Bare Waste Rock":3.53,"Agronomic Grass":1.84,"Reclaimed Forest":1.04},
{"date":"2010-04-15T12:00","Bare Waste Rock":5.19,"Agronomic Grass":1.23,"Reclaimed Forest":0.71},
{"date":"2010-04-16T12:00","Bare Waste Rock":6.06,"Agronomic Grass":1.69,"Reclaimed Forest":1.52},
{"date":"2010-04-17T12:00","Bare Waste Rock":4.72,"Agronomic Grass":2.06,"Reclaimed Forest":1.77},
{"date":"2010-04-18T12:00","Bare Waste Rock":4.85,"Agronomic Grass":2.49,"Reclaimed Forest":1.77},
{"date":"2010-04-19T12:00","Bare Waste Rock":3.57,"Agronomic Grass":2.42,"Reclaimed Forest":1.62},
{"date":"2010-04-20T12:00","Bare Waste Rock":4.05,"Agronomic Grass":2.75,"Reclaimed Forest":1.45},
{"date":"2010-04-21T12:00","Bare Waste Rock":4.11,"Agronomic Grass":1.62,"Reclaimed Forest":0.93},
{"date":"2010-04-22T12:00","Bare Waste Rock":1.77,"Agronomic Grass":1.90,"Reclaimed Forest":1.41},
{"date":"2010-04-23T12:00","Bare Waste Rock":1.77,"Agronomic Grass":3.07,"Reclaimed Forest":1.73},
{"date":"2010-04-24T12:00","Bare Waste Rock":1.62,"Agronomic Grass":2.06,"Reclaimed Forest":1.62},
{"date":"2010-04-25T12:00","Bare Waste Rock":0.65,"Agronomic Grass":1.73,"Reclaimed Forest":1.08},
{"date":"2010-04-26T12:00","Bare Waste Rock":0.71,"Agronomic Grass":1.45,"Reclaimed Forest":1.04},
{"date":"2010-04-27T12:00","Bare Waste Rock":1.19,"Agronomic Grass":2.27,"Reclaimed Forest":1.56},
{"date":"2010-04-28T12:00","Bare Waste Rock":2.32,"Agronomic Grass":1.77,"Reclaimed Forest":0.91},
{"date":"2010-04-29T12:00","Bare Waste Rock":1.23,"Agronomic Grass":2.01,"Reclaimed Forest":0.91},
{"date":"2010-04-30T12:00","Bare Waste Rock":0.97,"Agronomic Grass":1.90,"Reclaimed Forest":0.82},
{"date":"2010-05-01T12:00","Bare Waste Rock":1.52,"Agronomic Grass":1.73,"Reclaimed Forest":0.97},
{"date":"2010-05-02T12:00","Bare Waste Rock":2.27,"Agronomic Grass":1.99,"Reclaimed Forest":1.52},
{"date":"2010-05-03T12:00","Bare Waste Rock":2.64,"Agronomic Grass":2.27,"Reclaimed Forest":1.04},
{"date":"2010-05-04T12:00","Bare Waste Rock":2.06,"Agronomic Grass":1.19,"Reclaimed Forest":1.08},
{"date":"2010-05-05T12:00","Bare Waste Rock":4.05,"Agronomic Grass":1.73,"Reclaimed Forest":1.19},
{"date":"2010-05-06T12:00","Bare Waste Rock":1.04,"Agronomic Grass":1.69,"Reclaimed Forest":1.30},
{"date":"2010-05-07T12:00","Bare Waste Rock":2.06,"Agronomic Grass":1.30,"Reclaimed Forest":1.19},
{"date":"2010-05-08T12:00","Bare Waste Rock":2.86,"Agronomic Grass":1.77,"Reclaimed Forest":0.91},
{"date":"2010-05-09T12:00","Bare Waste Rock":2.49,"Agronomic Grass":1.41,"Reclaimed Forest":1.04},
{"date":"2010-05-10T12:00","Bare Waste Rock":2.16,"Agronomic Grass":1.90,"Reclaimed Forest":1.04},
{"date":"2010-05-11T12:00","Bare Waste Rock":1.77,"Agronomic Grass":2.27,"Reclaimed Forest":1.02},
{"date":"2010-05-12T12:00","Bare Waste Rock":0.97,"Agronomic Grass":1.84,"Reclaimed Forest":0.93},
{"date":"2010-05-13T12:00","Bare Waste Rock":2.92,"Agronomic Grass":1.77,"Reclaimed Forest":0.91},
{"date":"2010-05-14T12:00","Bare Waste Rock":1.95,"Agronomic Grass":1.90,"Reclaimed Forest":0.82},
{"date":"2010-05-15T12:00","Bare Waste Rock":0.82,"Agronomic Grass":1.69,"Reclaimed Forest":1.30},
{"date":"2010-05-16T12:00","Bare Waste Rock":1.13,"Agronomic Grass":1.25,"Reclaimed Forest":0.92},
{"date":"2010-05-17T12:00","Bare Waste Rock":1.04,"Agronomic Grass":0.97,"Reclaimed Forest":0.69},
{"date":"2010-05-18T12:00","Bare Waste Rock":2.16,"Agronomic Grass":1.77,"Reclaimed Forest":1.04},
{"date":"2010-05-19T12:00","Bare Waste Rock":2.23,"Agronomic Grass":1.02,"Reclaimed Forest":0.82},
{"date":"2010-05-20T12:00","Bare Waste Rock":3.61,"Agronomic Grass":1.45,"Reclaimed Forest":0.82},
{"date":"2010-05-21T12:00","Bare Waste Rock":2.99,"Agronomic Grass":1.88,"Reclaimed Forest":0.93},
{"date":"2010-05-22T12:00","Bare Waste Rock":4.44,"Agronomic Grass":1.88,"Reclaimed Forest":1.04},
{"date":"2010-05-23T12:00","Bare Waste Rock":3.51,"Agronomic Grass":2.16,"Reclaimed Forest":1.30},
{"date":"2010-05-24T12:00","Bare Waste Rock":1.56,"Agronomic Grass":1.99,"Reclaimed Forest":1.13},
{"date":"2010-05-25T12:00","Bare Waste Rock":1.84,"Agronomic Grass":1.77,"Reclaimed Forest":1.56},
{"date":"2010-05-26T12:00","Bare Waste Rock":1.84,"Agronomic Grass":2.86,"Reclaimed Forest":2.10},
{"date":"2010-05-27T12:00","Bare Waste Rock":1.04,"Agronomic Grass":1.84,"Reclaimed Forest":1.13},
{"date":"2010-05-28T12:00","Bare Waste Rock":0.71,"Agronomic Grass":1.56,"Reclaimed Forest":1.19},
{"date":"2010-05-29T12:00","Bare Waste Rock":2.81,"Agronomic Grass":3.29,"Reclaimed Forest":2.38},
{"date":"2010-05-30T12:00","Bare Waste Rock":2.86,"Agronomic Grass":1.69,"Reclaimed Forest":0.97},
{"date":"2010-05-31T12:00","Bare Waste Rock":3.79,"Agronomic Grass":1.84,"Reclaimed Forest":1.19},
{"date":"2010-06-01T12:00","Bare Waste Rock":2.45,"Agronomic Grass":1.88,"Reclaimed Forest":1.08},
{"date":"2010-06-02T12:00","Bare Waste Rock":3.46,"Agronomic Grass":1.88,"Reclaimed Forest":1.04},
{"date":"2010-06-03T12:00","Bare Waste Rock":3.40,"Agronomic Grass":2.06,"Reclaimed Forest":1.04},
{"date":"2010-06-04T12:00","Bare Waste Rock":2.71,"Agronomic Grass":2.42,"Reclaimed Forest":1.41},
{"date":"2010-06-05T12:00","Bare Waste Rock":0.71,"Agronomic Grass":2.49,"Reclaimed Forest":1.47},
{"date":"2010-06-06T12:00","Bare Waste Rock":1.52,"Agronomic Grass":2.06,"Reclaimed Forest":0.97},
{"date":"2010-06-07T12:00","Bare Waste Rock":3.07,"Agronomic Grass":2.27,"Reclaimed Forest":0.97},
{"date":"2010-06-08T12:00","Bare Waste Rock":1.88,"Agronomic Grass":2.32,"Reclaimed Forest":1.30},
{"date":"2010-06-09T12:00","Bare Waste Rock":2.64,"Agronomic Grass":2.92,"Reclaimed Forest":1.88},
{"date":"2010-06-10T12:00","Bare Waste Rock":4.55,"Agronomic Grass":2.16,"Reclaimed Forest":1.04},
{"date":"2010-06-11T12:00","Bare Waste Rock":6.17,"Agronomic Grass":1.56,"Reclaimed Forest":1.04},
{"date":"2010-06-12T12:00","Bare Waste Rock":4.33,"Agronomic Grass":1.99,"Reclaimed Forest":1.08},
{"date":"2010-06-13T12:00","Bare Waste Rock":3.85,"Agronomic Grass":1.69,"Reclaimed Forest":1.13},
{"date":"2010-06-14T12:00","Bare Waste Rock":4.87,"Agronomic Grass":1.26,"Reclaimed Forest":0.87},
{"date":"2010-06-15T12:00","Bare Waste Rock":4.16,"Agronomic Grass":1.62,"Reclaimed Forest":1.47},
{"date":"2010-06-16T12:00","Bare Waste Rock":4.11,"Agronomic Grass":1.47,"Reclaimed Forest":1.19},
{"date":"2010-06-17T12:00","Bare Waste Rock":0.48,"Agronomic Grass":3.35,"Reclaimed Forest":1.77},
{"date":"2010-06-18T12:00","Bare Waste Rock":1.62,"Agronomic Grass":4.18,"Reclaimed Forest":1.08},
{"date":"2010-06-19T12:00","Bare Waste Rock":3.53,"Agronomic Grass":1.99,"Reclaimed Forest":1.30},
{"date":"2010-06-20T12:00","Bare Waste Rock":2.38,"Agronomic Grass":2.77,"Reclaimed Forest":1.19},
{"date":"2010-06-21T12:00","Bare Waste Rock":1.08,"Agronomic Grass":2.38,"Reclaimed Forest":0.93},
{"date":"2010-06-22T12:00","Bare Waste Rock":2.34,"Agronomic Grass":2.06,"Reclaimed Forest":0.93},
{"date":"2010-06-23T12:00","Bare Waste Rock":2.21,"Agronomic Grass":1.69,"Reclaimed Forest":1.02},
{"date":"2010-06-24T12:00","Bare Waste Rock":1.19,"Agronomic Grass":2.06,"Reclaimed Forest":1.19},
{"date":"2010-06-25T12:00","Bare Waste Rock":0.76,"Agronomic Grass":1.77,"Reclaimed Forest":1.08},
{"date":"2010-06-26T12:00","Bare Waste Rock":1.45,"Agronomic Grass":1.47,"Reclaimed Forest":0.93},
{"date":"2010-06-27T12:00","Bare Waste Rock":1.99,"Agronomic Grass":1.90,"Reclaimed Forest":1.02},
{"date":"2010-06-28T12:00","Bare Waste Rock":0.43,"Agronomic Grass":1.77,"Reclaimed Forest":1.08},
{"date":"2010-06-29T12:00","Bare Waste Rock":0.54,"Agronomic Grass":1.77,"Reclaimed Forest":1.04},
{"date":"2010-06-30T12:00","Bare Waste Rock":1.73,"Agronomic Grass":2.21,"Reclaimed Forest":0.87}
]
},
"vconcat": [
{
  "width": 882, "height": 123,
  "data": {"name": "qstar"},
  "transform": [{"fold": ["Reclaimed Forest", "Agronomic Grass", "Bare Waste Rock"], "as": ["site", "value"]}],
  "resolve": {"axis": {"x": "independent", "y": "independent"}},
  "layer": [
    {"data": {"values": [{}]}, "mark": {"type": "rule", "color": "#333", "strokeWidth": 1}, "encoding": {"y": {"datum": 0, "type": "quantitative", "axis": null}}},
    {"mark": {"type": "line", "strokeWidth": 2, "invalid": "break-paths-filter-domains"},
     "encoding": {
       "x": {"field": "date", "type": "temporal", "scale": {"domain": [{"year": 2010, "month": 4, "date": 1}, {"year": 2010, "month": 6, "date": 30, "hours": 12}]}, "axis": {"orient": "bottom", "values": [{"year": 2010, "month": 5, "date": 1}, {"year": 2010, "month": 6, "date": 1}], "labels": false, "title": null}},
       "y": {"field": "value", "type": "quantitative", "scale": {"domain": [-100, 300], "nice": false}, "axis": {"orient": "left", "values": [-100, 0, 100, 200, 300], "labelExpr": "replace(datum.label, '−', '-')", "title": "Q* ( W m⁻²)", "titleX": -52, "titleY": 37}},
       "color": {"field": "site", "type": "nominal", "scale": {"domain": ["Bare Waste Rock", "Agronomic Grass", "Reclaimed Forest"], "range": ["#0000ff", "#ff0000", "#008000"]}, "legend": null}
     }},
    {"mark": {"type": "point", "opacity": 0},
     "encoding": {
       "x": {"field": "date", "type": "temporal", "axis": {"orient": "top", "values": [{"year": 2010, "month": 5, "date": 1}, {"year": 2010, "month": 6, "date": 1}], "labels": false, "title": null}},
       "y": {"field": "value", "type": "quantitative", "axis": {"orient": "right", "values": [-100, 0, 100, 200, 300], "labels": false, "title": null}}
     }}
  ]
},
{
  "width": 882, "height": 123,
  "data": {"name": "ta"},
  "transform": [{"fold": ["Reclaimed Forest", "Agronomic Grass", "Bare Waste Rock"], "as": ["site", "value"]}],
  "resolve": {"axis": {"x": "independent", "y": "independent"}},
  "layer": [
    {"data": {"values": [{}]}, "mark": {"type": "rule", "color": "#333", "strokeWidth": 1}, "encoding": {"y": {"datum": 0, "type": "quantitative", "axis": null}}},
    {"mark": {"type": "line", "strokeWidth": 2, "invalid": "break-paths-filter-domains"},
     "encoding": {
       "x": {"field": "date", "type": "temporal", "scale": {"domain": [{"year": 2010, "month": 4, "date": 1}, {"year": 2010, "month": 6, "date": 30, "hours": 12}]}, "axis": {"orient": "bottom", "values": [{"year": 2010, "month": 5, "date": 1}, {"year": 2010, "month": 6, "date": 1}], "labels": false, "title": null}},
       "y": {"field": "value", "type": "quantitative", "scale": {"domain": [-20, 20], "nice": false}, "axis": {"orient": "left", "values": [-20, -10, 0, 10, 20], "labelExpr": "replace(datum.label, '−', '-')", "title": "Ta (° C)", "titleX": -50, "titleY": 40}},
       "color": {"field": "site", "type": "nominal", "scale": {"domain": ["Bare Waste Rock", "Agronomic Grass", "Reclaimed Forest"], "range": ["#0000ff", "#ff0000", "#008000"]}, "legend": null}
     }},
    {"mark": {"type": "point", "opacity": 0},
     "encoding": {
       "x": {"field": "date", "type": "temporal", "axis": {"orient": "top", "values": [{"year": 2010, "month": 5, "date": 1}, {"year": 2010, "month": 6, "date": 1}], "labels": false, "title": null}},
       "y": {"field": "value", "type": "quantitative", "axis": {"orient": "right", "values": [-20, -10, 0, 10, 20], "labels": false, "title": null}}
     }}
  ]
},
{
  "width": 882, "height": 123,
  "data": {"name": "rh"},
  "transform": [{"fold": ["Reclaimed Forest", "Agronomic Grass", "Bare Waste Rock"], "as": ["site", "value"]}],
  "resolve": {"axis": {"x": "independent", "y": "independent"}},
  "layer": [
    {"mark": {"type": "line", "strokeWidth": 2, "invalid": "break-paths-filter-domains"},
     "encoding": {
       "x": {"field": "date", "type": "temporal", "scale": {"domain": [{"year": 2010, "month": 4, "date": 1}, {"year": 2010, "month": 6, "date": 30, "hours": 12}]}, "axis": {"orient": "bottom", "values": [{"year": 2010, "month": 5, "date": 1}, {"year": 2010, "month": 6, "date": 1}], "labels": false, "title": null}},
       "y": {"field": "value", "type": "quantitative", "scale": {"domain": [0, 100], "nice": false}, "axis": {"orient": "left", "values": [0, 25, 50, 75, 100], "title": "RH ( % )", "titleX": -50, "titleY": 31}},
       "color": {"field": "site", "type": "nominal", "scale": {"domain": ["Bare Waste Rock", "Agronomic Grass", "Reclaimed Forest"], "range": ["#0000ff", "#ff0000", "#008000"]}, "legend": null}
     }},
    {"mark": {"type": "point", "opacity": 0},
     "encoding": {
       "x": {"field": "date", "type": "temporal", "axis": {"orient": "top", "values": [{"year": 2010, "month": 5, "date": 1}, {"year": 2010, "month": 6, "date": 1}], "labels": false, "title": null}},
       "y": {"field": "value", "type": "quantitative", "axis": {"orient": "right", "values": [0, 25, 50, 75, 100], "labels": false, "title": null}}
     }}
  ]
},
{
  "width": 882, "height": 123,
  "data": {"name": "snow"},
  "transform": [{"calculate": "indexof(['Reclaimed Forest','Agronomic Grass','Bare Waste Rock'], datum.site)", "as": "stackOrder"}],
  "resolve": {"axis": {"x": "independent", "y": "independent"}},
  "layer": [
    {"mark": {"type": "bar", "size": 9, "stroke": "#1a1a1a", "strokeWidth": 0.8},
     "encoding": {
       "x": {"field": "date", "type": "temporal", "scale": {"domain": [{"year": 2010, "month": 4, "date": 1}, {"year": 2010, "month": 6, "date": 30, "hours": 12}]}, "axis": {"orient": "bottom", "values": [{"year": 2010, "month": 5, "date": 1}, {"year": 2010, "month": 6, "date": 1}], "labels": false, "title": null}},
       "y": {"field": "cm", "type": "quantitative", "stack": "zero", "scale": {"domain": [0, 25], "nice": false}, "axis": {"orient": "left", "values": [0, 5, 10, 15, 20, 25], "title": "Snow (cm)", "titleX": -38, "titleY": 61}},
       "order": {"field": "stackOrder", "type": "quantitative"},
       "color": {"field": "site", "type": "nominal", "scale": {"domain": ["Bare Waste Rock", "Agronomic Grass", "Reclaimed Forest"], "range": ["#0000ff", "#ff0000", "#008000"]},
         "legend": {"orient": "none", "legendX": 652, "legendY": 7, "title": null, "symbolType": "M-0.5,-0.9L5,-0.9L5,0.9L-0.5,0.9Z", "symbolSize": 400, "symbolStrokeColor": "#000", "symbolStrokeWidth": 1, "symbolOpacity": 1, "labelFont": "Liberation Sans", "labelFontSize": 18, "labelColor": "#000", "labelOffset": 47, "strokeColor": "#000", "fillColor": "#fff", "padding": 6, "rowPadding": 2.5}}
     }},
    {"mark": {"type": "point", "opacity": 0},
     "encoding": {
       "x": {"field": "date", "type": "temporal", "axis": {"orient": "top", "values": [{"year": 2010, "month": 5, "date": 1}, {"year": 2010, "month": 6, "date": 1}], "labels": false, "title": null}},
       "y": {"field": "cm", "type": "quantitative", "axis": {"orient": "right", "values": [0, 5, 10, 15, 20, 25], "labels": false, "title": null}}
     }}
  ]
},
{
  "width": 882, "height": 123,
  "data": {"name": "wind"},
  "transform": [{"fold": ["Reclaimed Forest", "Agronomic Grass", "Bare Waste Rock"], "as": ["site", "value"]}],
  "resolve": {"axis": {"x": "independent", "y": "independent"}},
  "layer": [
    {"mark": {"type": "line", "strokeWidth": 2, "invalid": "break-paths-filter-domains"},
     "encoding": {
       "x": {"field": "date", "type": "temporal", "scale": {"domain": [{"year": 2010, "month": 4, "date": 1}, {"year": 2010, "month": 6, "date": 30, "hours": 12}]},
         "axis": {"orient": "bottom", "values": [{"year": 2010, "month": 4, "date": 17}, {"year": 2010, "month": 5, "date": 1}, {"year": 2010, "month": 5, "date": 17}, {"year": 2010, "month": 6, "date": 1}, {"year": 2010, "month": 6, "date": 16, "hours": 12}],
           "labelExpr": "date(datum.value) == 1 ? '' : timeFormat(datum.value, '%B')",
           "tickOpacity": {"condition": {"test": "date(datum.value) == 1", "value": 1}, "value": 0},
           "labelPadding": 10, "title": null}},
       "y": {"field": "value", "type": "quantitative", "scale": {"domain": [0, 8], "nice": false}, "axis": {"orient": "left", "values": [0, 2, 4, 6, 8], "title": "u ( m s⁻¹ )", "titleX": -51, "titleY": 58}},
       "color": {"field": "site", "type": "nominal", "scale": {"domain": ["Bare Waste Rock", "Agronomic Grass", "Reclaimed Forest"], "range": ["#0000ff", "#ff0000", "#008000"]}, "legend": null}
     }},
    {"mark": {"type": "point", "opacity": 0},
     "encoding": {
       "x": {"field": "date", "type": "temporal", "axis": {"orient": "top", "values": [{"year": 2010, "month": 5, "date": 1}, {"year": 2010, "month": 6, "date": 1}], "labels": false, "title": null}},
       "y": {"field": "value", "type": "quantitative", "axis": {"orient": "right", "values": [0, 2, 4, 6, 8], "labels": false, "title": null}}
     }}
  ]
}
]
}
